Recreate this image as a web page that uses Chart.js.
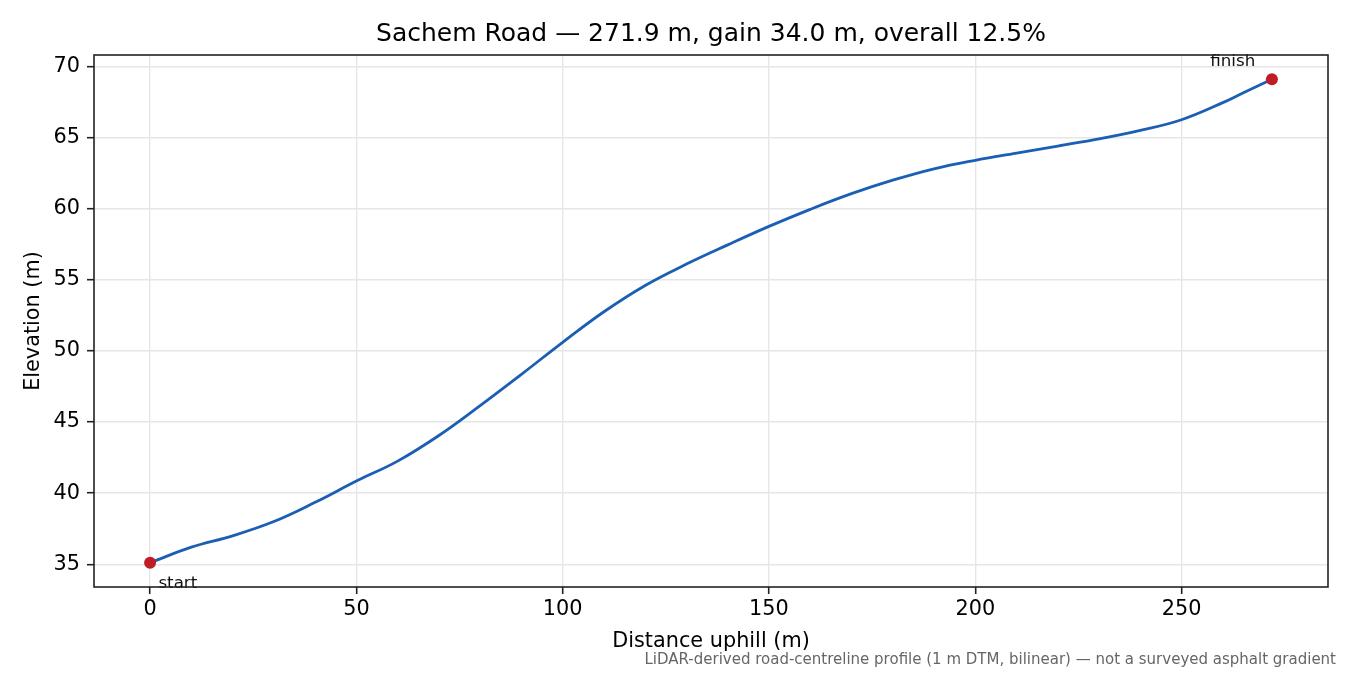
<!DOCTYPE html>
<html>
<head>
<meta charset="utf-8">
<title>Sachem Road elevation profile</title>
<script src="https://cdn.jsdelivr.net/npm/chart.js@4.4.0/dist/chart.umd.min.js"></script>
<style>
  html, body { margin: 0; padding: 0; background: #fff; }
  #wrap { width: 1350px; height: 675px; }
</style>
</head>
<body>
<div id="wrap"><canvas id="profileChart" width="1350" height="675"></canvas></div>
<script>
// Profile (distance uphill in m, elevation in m)
var distance = [0, 10, 20, 30, 40, 50, 60, 70, 80, 90, 100, 110, 120, 130, 140, 150,
  160, 170, 180, 190, 200, 210, 220, 230, 240, 250, 260, 265, 271.9];
var elevation = [35.1, 36.2, 37.0, 38.0, 39.35, 40.85, 42.25, 44.05, 46.15, 48.35, 50.6, 52.75,
  54.6, 56.1, 57.45, 58.75, 59.95, 61.05, 62.0, 62.8, 63.4, 63.9, 64.4, 64.9, 65.5, 66.25,
  67.45, 68.15, 69.1];

var xTicks = [0, 50, 100, 150, 200, 250];
var yTicks = [35, 40, 45, 50, 55, 60, 65, 70];

var titleText = "Sachem Road \u2014 271.9 m, gain 34.0 m, overall 12.5%";
var footText = "LiDAR-derived road-centreline profile (1 m DTM, bilinear) \u2014 not a surveyed asphalt gradient";

var FONT = "'DejaVu Sans', 'Liberation Sans', sans-serif";
var lineColor = "#1a5fb4";
var dotColor = "#c01c28";

// axis limits with the usual 5% margin
var span = distance[distance.length - 1] - distance[0];
var rise = elevation[elevation.length - 1] - elevation[0];
var xMin = distance[0] - span * 0.05, xMax = distance[distance.length - 1] + span * 0.05;
var yMin = elevation[0] - rise * 0.05, yMax = elevation[elevation.length - 1] + rise * 0.05;

var profilePoints = distance.map(function(d, i) { return { x: d, y: elevation[i] }; });
var last = distance.length - 1;
var endPoints = [
  { x: distance[0], y: elevation[0] },
  { x: distance[last], y: elevation[last] }
];

// title, frame, start/finish labels and footnote
var profileExtras = {
  id: "profileExtras",
  afterDatasetsDraw: function(chart) {
    var ctx = chart.ctx;
    var xs = chart.scales.x, ys = chart.scales.y;
    ctx.save();
    ctx.fillStyle = "#111";
    ctx.font = "16.7px " + FONT;
    ctx.textBaseline = "alphabetic";
    ctx.textAlign = "left";
    ctx.fillText("start", xs.getPixelForValue(endPoints[0].x) + 8.3, ys.getPixelForValue(endPoints[0].y) + 25);
    ctx.textAlign = "right";
    ctx.fillText("finish", xs.getPixelForValue(endPoints[1].x) - 16.7, ys.getPixelForValue(endPoints[1].y) - 13);
    ctx.restore();
  },
  afterDraw: function(chart) {
    var ctx = chart.ctx;
    var area = chart.chartArea;
    ctx.save();
    ctx.strokeStyle = "#222";
    ctx.lineWidth = 1.6;
    ctx.strokeRect(area.left, area.top, area.right - area.left, area.bottom - area.top);

    ctx.fillStyle = "#000";
    ctx.font = "25px " + FONT;
    ctx.textAlign = "center";
    ctx.textBaseline = "middle";
    ctx.fillText(titleText, (area.left + area.right) / 2, 34);

    ctx.fillStyle = "#666";
    ctx.font = "15px " + FONT;
    ctx.textAlign = "right";
    ctx.fillText(footText, 1336, 660);
    ctx.restore();
  }
};

function setTicks(values) {
  return function(scale) {
    scale.ticks = values.map(function(v) { return { value: v }; });
  };
}

var ctx = document.getElementById("profileChart").getContext("2d");
new Chart(ctx, {
  type: "line",
  data: {
    datasets: [
      {
        label: "ends",
        data: endPoints,
        showLine: false,
        pointRadius: 6,
        pointBackgroundColor: dotColor,
        pointBorderWidth: 0,
        order: 0
      },
      {
        label: "profile",
        data: profilePoints,
        borderColor: lineColor,
        borderWidth: 2.8,
        pointRadius: 0,
        tension: 0.4,
        fill: false,
        order: 1
      }
    ]
  },
  options: {
    responsive: false,
    animation: false,
    devicePixelRatio: 1,
    layout: { padding: { top: 55, right: 22, bottom: 0, left: 0 } },
    plugins: {
      legend: { display: false },
      tooltip: { enabled: false },
      title: { display: false }
    },
    scales: {
      x: {
        type: "linear",
        min: xMin,
        max: xMax,
        afterBuildTicks: setTicks(xTicks),
        afterFit: function(scale) { scale.height = 88; },
        border: { display: false },
        grid: { color: "#e6e6e6", lineWidth: 1.4, tickColor: "#222", tickLength: 7, tickWidth: 1.6 },
        ticks: { color: "#000", font: { family: FONT, size: 20.8 }, padding: 3, maxRotation: 0 },
        title: {
          display: true,
          text: "Distance uphill (m)",
          color: "#000",
          font: { family: FONT, size: 20.8 },
          padding: { top: 0, bottom: 21 }
        }
      },
      y: {
        type: "linear",
        min: yMin,
        max: yMax,
        afterBuildTicks: setTicks(yTicks),
        afterFit: function(scale) { scale.width = 94; },
        border: { display: false },
        grid: { color: "#e6e6e6", lineWidth: 1.4, tickColor: "#222", tickLength: 7, tickWidth: 1.6 },
        ticks: { color: "#000", font: { family: FONT, size: 20.8 }, padding: 7 },
        title: {
          display: true,
          text: "Elevation (m)",
          color: "#000",
          font: { family: FONT, size: 20.8 },
          padding: { top: 21.5, bottom: 0 }
        }
      }
    }
  },
  plugins: [profileExtras]
});
</script>
</body>
</html>
